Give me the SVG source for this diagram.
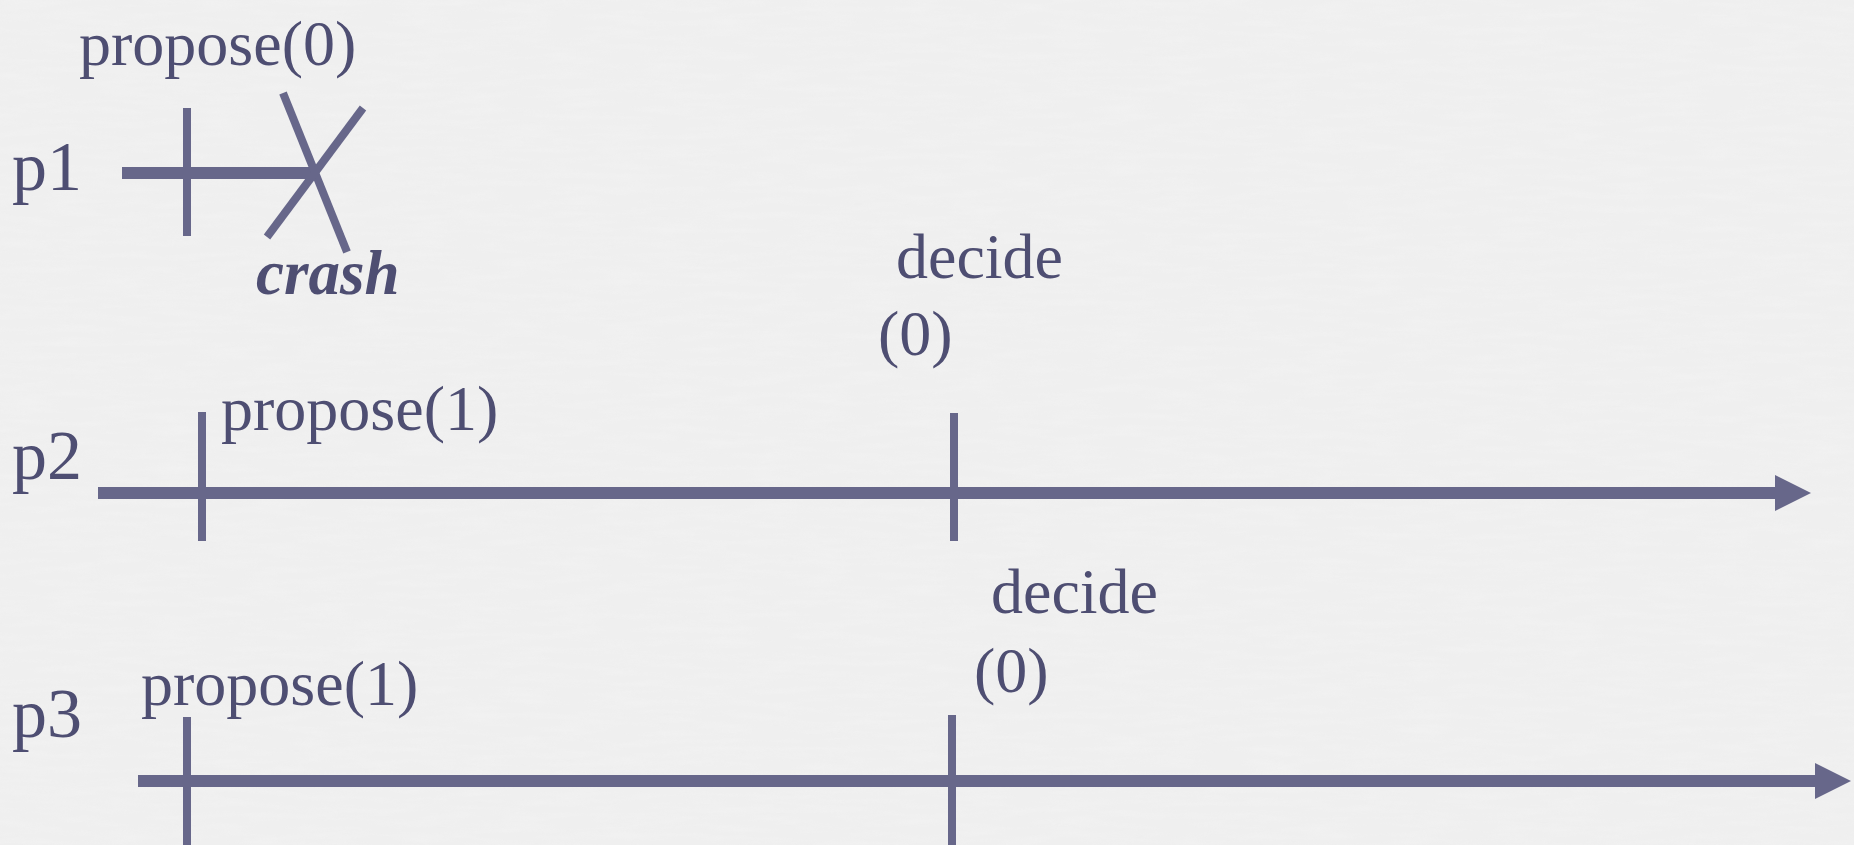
<svg xmlns="http://www.w3.org/2000/svg" width="1854" height="845" viewBox="0 0 1854 845">
  <defs>
    <style>
      .t { font-family: "Liberation Serif", "Times New Roman", serif; font-size: 64px; fill: #4e4e72; }
      .p { font-size: 70px; }
      .crash { font-weight: bold; font-style: italic; font-size: 63px; }
      .line { stroke: #67678a; stroke-width: 12; fill: none; }
      .tick { stroke: #67678a; stroke-width: 8; fill: none; }
      .head { fill: #67678a; }
    </style>
    <filter id="tex" x="0" y="0" width="100%" height="100%">
      <feTurbulence type="fractalNoise" baseFrequency="0.02 0.15" numOctaves="3" seed="4" result="n"/>
      <feColorMatrix in="n" type="matrix" values="0 0 0 0 0.93  0 0 0 0 0.93  0 0 0 0 0.93  0 0 0 -0.9 0.55"/>
    </filter>
  </defs>
  <rect width="1854" height="845" fill="#efefef"/>
  <rect width="1854" height="845" filter="url(#tex)" opacity="0.6"/>

  <g id="connectors">
    <line class="line" x1="122" y1="173" x2="315" y2="173"/>
    <line class="line" x1="98" y1="493" x2="1778" y2="493"/>
    <polygon class="head" points="1775,475 1811,493 1775,511"/>
    <line class="line" x1="138" y1="781" x2="1818" y2="781"/>
    <polygon class="head" points="1815,763 1851,781 1815,799"/>
  </g>

  <g id="p1">
    <text class="t p" x="12" y="190">p1</text>
    <text class="t" x="79" y="65">propose(0)</text>
    <line class="tick" x1="187" y1="108" x2="187" y2="236"/>
    <g id="crash">
      <line class="tick" x1="283" y1="93" x2="347" y2="252"/>
      <line class="tick" x1="363" y1="108" x2="267" y2="237"/>
      <text class="t crash" x="256" y="294">crash</text>
    </g>
  </g>

  <g id="p2">
    <text class="t p" x="12" y="479">p2</text>
    <line class="tick" x1="202" y1="412" x2="202" y2="541"/>
    <text class="t" x="221" y="430">propose(1)</text>
    <line class="tick" x1="954" y1="413" x2="954" y2="541"/>
    <text class="t" x="896" y="278">decide</text>
    <text class="t" x="878" y="355">(0)</text>
  </g>

  <g id="p3">
    <text class="t p" x="12" y="737">p3</text>
    <line class="tick" x1="187" y1="717" x2="187" y2="845"/>
    <text class="t" x="141" y="705">propose(1)</text>
    <line class="tick" x1="952" y1="715" x2="952" y2="845"/>
    <text class="t" x="991" y="613">decide</text>
    <text class="t" x="974" y="692">(0)</text>
  </g>
</svg>
